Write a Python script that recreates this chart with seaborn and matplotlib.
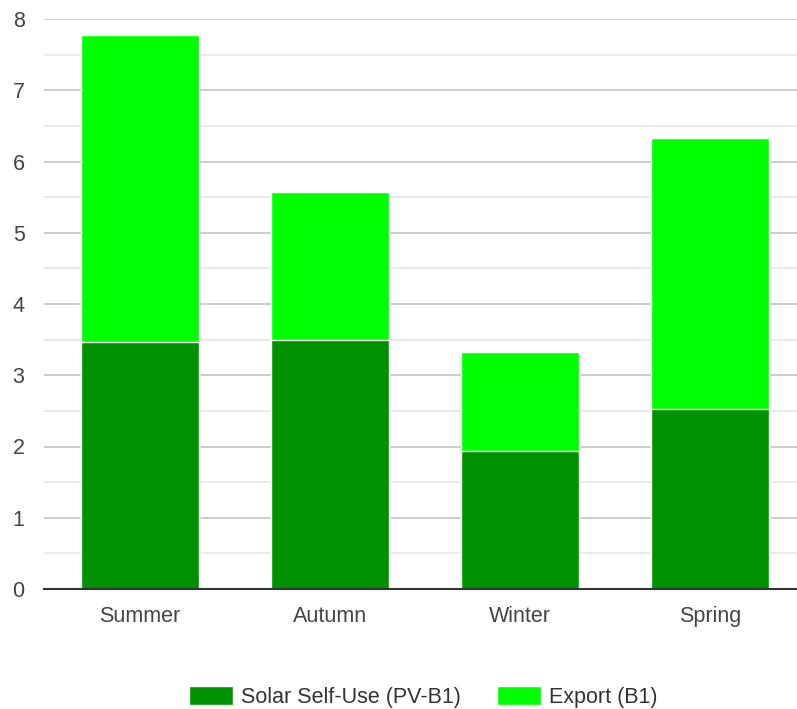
import pandas as pd
import numpy as np
import matplotlib
matplotlib.use('Agg')
import matplotlib.pyplot as plt
import seaborn as sns
from matplotlib.patches import Patch

seasons = ['Summer', 'Autumn', 'Winter', 'Spring']
self_use = [3.46, 3.49, 1.94, 2.53]
export = [4.32, 2.08, 1.39, 3.80]

SELF_COLOR = '#009100'
EXPORT_COLOR = '#00ff00'

sns.set_style("white")
plt.rcParams['font.family'] = ['Liberation Sans', 'DejaVu Sans']

df = pd.DataFrame({'season': seasons, 'self_use': self_use, 'export': export})
df['total'] = df['self_use'] + df['export']

fig = plt.figure(figsize=(7.97, 7.09), dpi=100)
ax = fig.add_axes([44/797, 1 - 589/709, 1 - 44/797, (589 - 19)/709])

# stacked bars: total first (export colour), self-use drawn over it
sns.barplot(data=df, x='season', y='total', color=EXPORT_COLOR, saturation=1,
            width=0.62, edgecolor='white', linewidth=1, ax=ax, zorder=3)
sns.barplot(data=df, x='season', y='self_use', color=SELF_COLOR, saturation=1,
            width=0.62, edgecolor='white', linewidth=1, ax=ax, zorder=3)

ax.set_ylim(0, 8)
ax.set_xlim(-0.505, 3.458)
ax.set_yticks(range(0, 9))
ax.set_yticks(np.arange(0.5, 8, 1), minor=True)
ax.grid(axis='y', which='major', color='#cccccc', linewidth=1.4, zorder=0)
ax.grid(axis='y', which='minor', color='#e8e8e8', linewidth=1.3, zorder=0)
ax.set_axisbelow(True)
for s in ['top', 'right', 'left']:
    ax.spines[s].set_visible(False)
ax.spines['bottom'].set_color('#333333')
ax.spines['bottom'].set_linewidth(1.5)
ax.spines['bottom'].set_zorder(4)
ax.tick_params(axis='both', length=0, labelsize=15.5, labelcolor='#444444')
ax.tick_params(axis='y', pad=14)
ax.tick_params(axis='x', pad=12)
ax.set_xlabel('')
ax.set_ylabel('')

handles = [Patch(facecolor=SELF_COLOR, label='Solar Self-Use (PV-B1)'),
           Patch(facecolor=EXPORT_COLOR, label='Export (B1)')]
fig.legend(handles=handles, loc='center', bbox_to_anchor=(0.531, 1 - 697/709),
           ncol=2, frameon=False, fontsize=15.5, handlelength=2.05, handleheight=1.0,
           handletextpad=0.35, columnspacing=1.7, labelcolor='#333333')

plt.savefig('out.png', dpi=100)
